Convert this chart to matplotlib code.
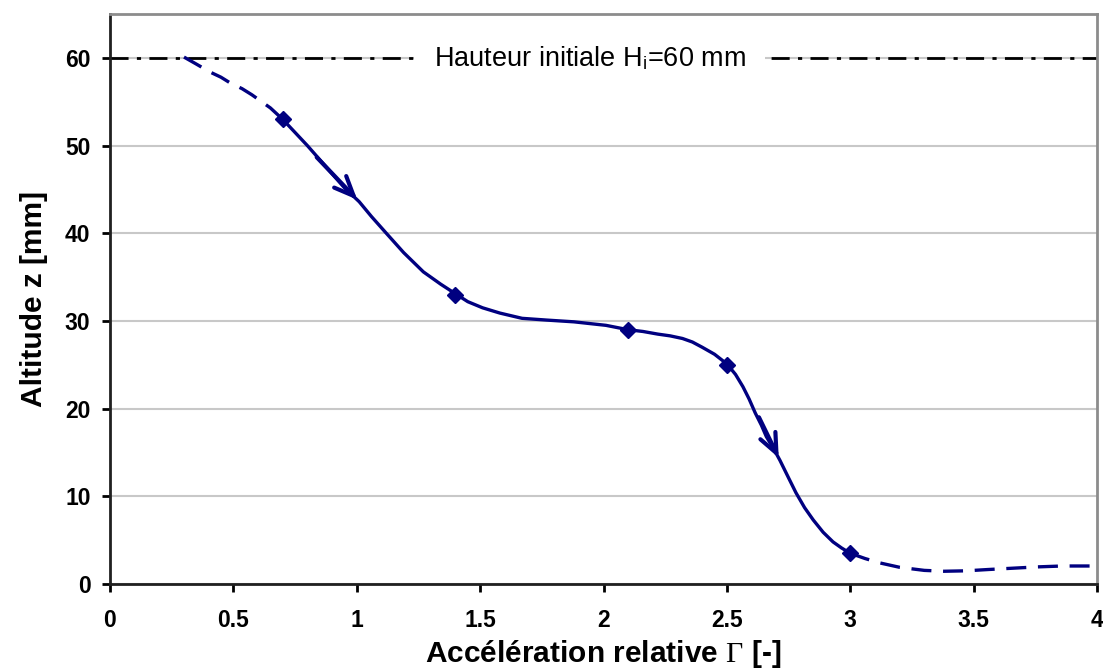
import matplotlib.pyplot as plt

plt.rcParams['font.family'] = ['Liberation Sans', 'DejaVu Sans']
plt.rcParams['mathtext.fontset'] = 'custom'
plt.rcParams['mathtext.rm'] = 'Liberation Serif'
plt.rcParams['mathtext.it'] = 'Liberation Serif:italic'

# measured points
gamma_pts = [0.7, 1.4, 2.1, 2.5, 3.0]
z_pts = [53, 33, 29, 25, 3.5]

# trend curve, solid part between the measurements
gamma_fit = [0.70, 0.75, 0.80, 0.85, 0.90, 0.95, 1.01, 1.06, 1.12, 1.19, 1.27,
             1.34, 1.40, 1.45, 1.51, 1.58, 1.67, 1.77, 1.88, 2.01, 2.10, 2.16,
             2.22, 2.27, 2.32, 2.36, 2.40, 2.45, 2.50, 2.535, 2.565, 2.59,
             2.615, 2.64, 2.66, 2.69, 2.715, 2.75, 2.78, 2.815, 2.85, 2.89,
             2.93, 2.965, 3.00]
z_fit = [53.0, 51.5, 50.0, 48.4, 46.8, 45.2, 43.6, 41.9, 40.0, 37.8, 35.6,
         34.2, 33.1, 32.2, 31.5, 30.9, 30.3, 30.1, 29.9, 29.5, 29.0, 28.8,
         28.5, 28.3, 28.0, 27.6, 27.0, 26.2, 25.1, 23.9, 22.5, 21.1,
         19.5, 18.1, 16.8, 15.4, 14.1, 12.1, 10.4, 8.7, 7.3, 5.9,
         4.8, 4.1, 3.5]

# extrapolated ends (dashed)
gamma_lo = [0.30, 0.35, 0.405, 0.45, 0.49, 0.535, 0.575, 0.61, 0.65, 0.70]
z_lo = [60.1, 59.3, 58.4, 57.8, 57.1, 56.5, 55.8, 55.1, 54.3, 53.0]
gamma_hi = [3.00, 3.06, 3.12, 3.20, 3.30, 3.38, 3.47, 3.56, 3.66, 3.76, 3.86, 4.00]
z_hi = [3.5, 2.9, 2.4, 1.9, 1.55, 1.45, 1.5, 1.65, 1.8, 1.95, 2.05, 2.05]

h_init = 60
navy = '#000080'

fig = plt.figure(figsize=(11.03, 6.72), dpi=100)
ax = fig.add_axes([0.0997, 0.131, 0.8949, 0.848])

ax.set_xlim(0, 4)
ax.set_ylim(0, 65)
ax.set_xticks([0, 0.5, 1, 1.5, 2, 2.5, 3, 3.5, 4])
ax.set_xticklabels(['0', '0.5', '1', '1.5', '2', '2.5', '3', '3.5', '4'])
ax.set_yticks([0, 10, 20, 30, 40, 50, 60])

ax.yaxis.grid(True, color='#c8c8c8', linewidth=1.5)
ax.set_axisbelow(True)

# initial height reference line
ax.axhline(h_init, color='black', linewidth=2, dashes=(6.5, 3, 1.5, 3))
ax.text(1.945, h_init, 'Hauteur initiale H$_\\mathregular{i}$=60 mm', fontsize=19.5,
        ha='center', va='center',
        bbox=dict(facecolor='white', edgecolor='none', pad=14))

ax.plot(gamma_lo, z_lo, color=navy, linewidth=2.4, dashes=(6, 3.5))
ax.plot(gamma_hi, z_hi, color=navy, linewidth=2.4, dashes=(6, 3.5))
ax.plot(gamma_fit, z_fit, color=navy, linewidth=2.4, solid_capstyle='round',
        solid_joinstyle='round')
ax.plot(gamma_pts, z_pts, linestyle='none', marker='D', markersize=8.5, color=navy)

# direction arrows along the curve
ax.annotate('', xy=(1.01, 43.6), xytext=(0.83, 48.9),
            arrowprops=dict(arrowstyle='->,head_length=1.4,head_width=0.6',
                            color=navy, linewidth=3))
ax.annotate('', xy=(2.715, 14.1), xytext=(2.625, 19.3),
            arrowprops=dict(arrowstyle='->,head_length=1.4,head_width=0.6',
                            color=navy, linewidth=3))

for side in ['top', 'right']:
    ax.spines[side].set_color('#8c8c8c')
    ax.spines[side].set_linewidth(2)
for side in ['left', 'bottom']:
    ax.spines[side].set_color('#202020')
    ax.spines[side].set_linewidth(2)

ax.tick_params(direction='out', length=6, width=2, labelsize=16.5)
ax.tick_params(axis='x', pad=12)
ax.tick_params(axis='y', pad=8)
for lbl in ax.get_xticklabels() + ax.get_yticklabels():
    lbl.set_fontweight('bold')

ax.set_xlabel('Accélération relative $\\Gamma$ [-]', fontsize=21.5, fontweight='bold',
              labelpad=4)
ax.set_ylabel('Altitude z [mm]', fontsize=21.5, fontweight='bold', labelpad=12)

fig.savefig('out.png', dpi=100)
